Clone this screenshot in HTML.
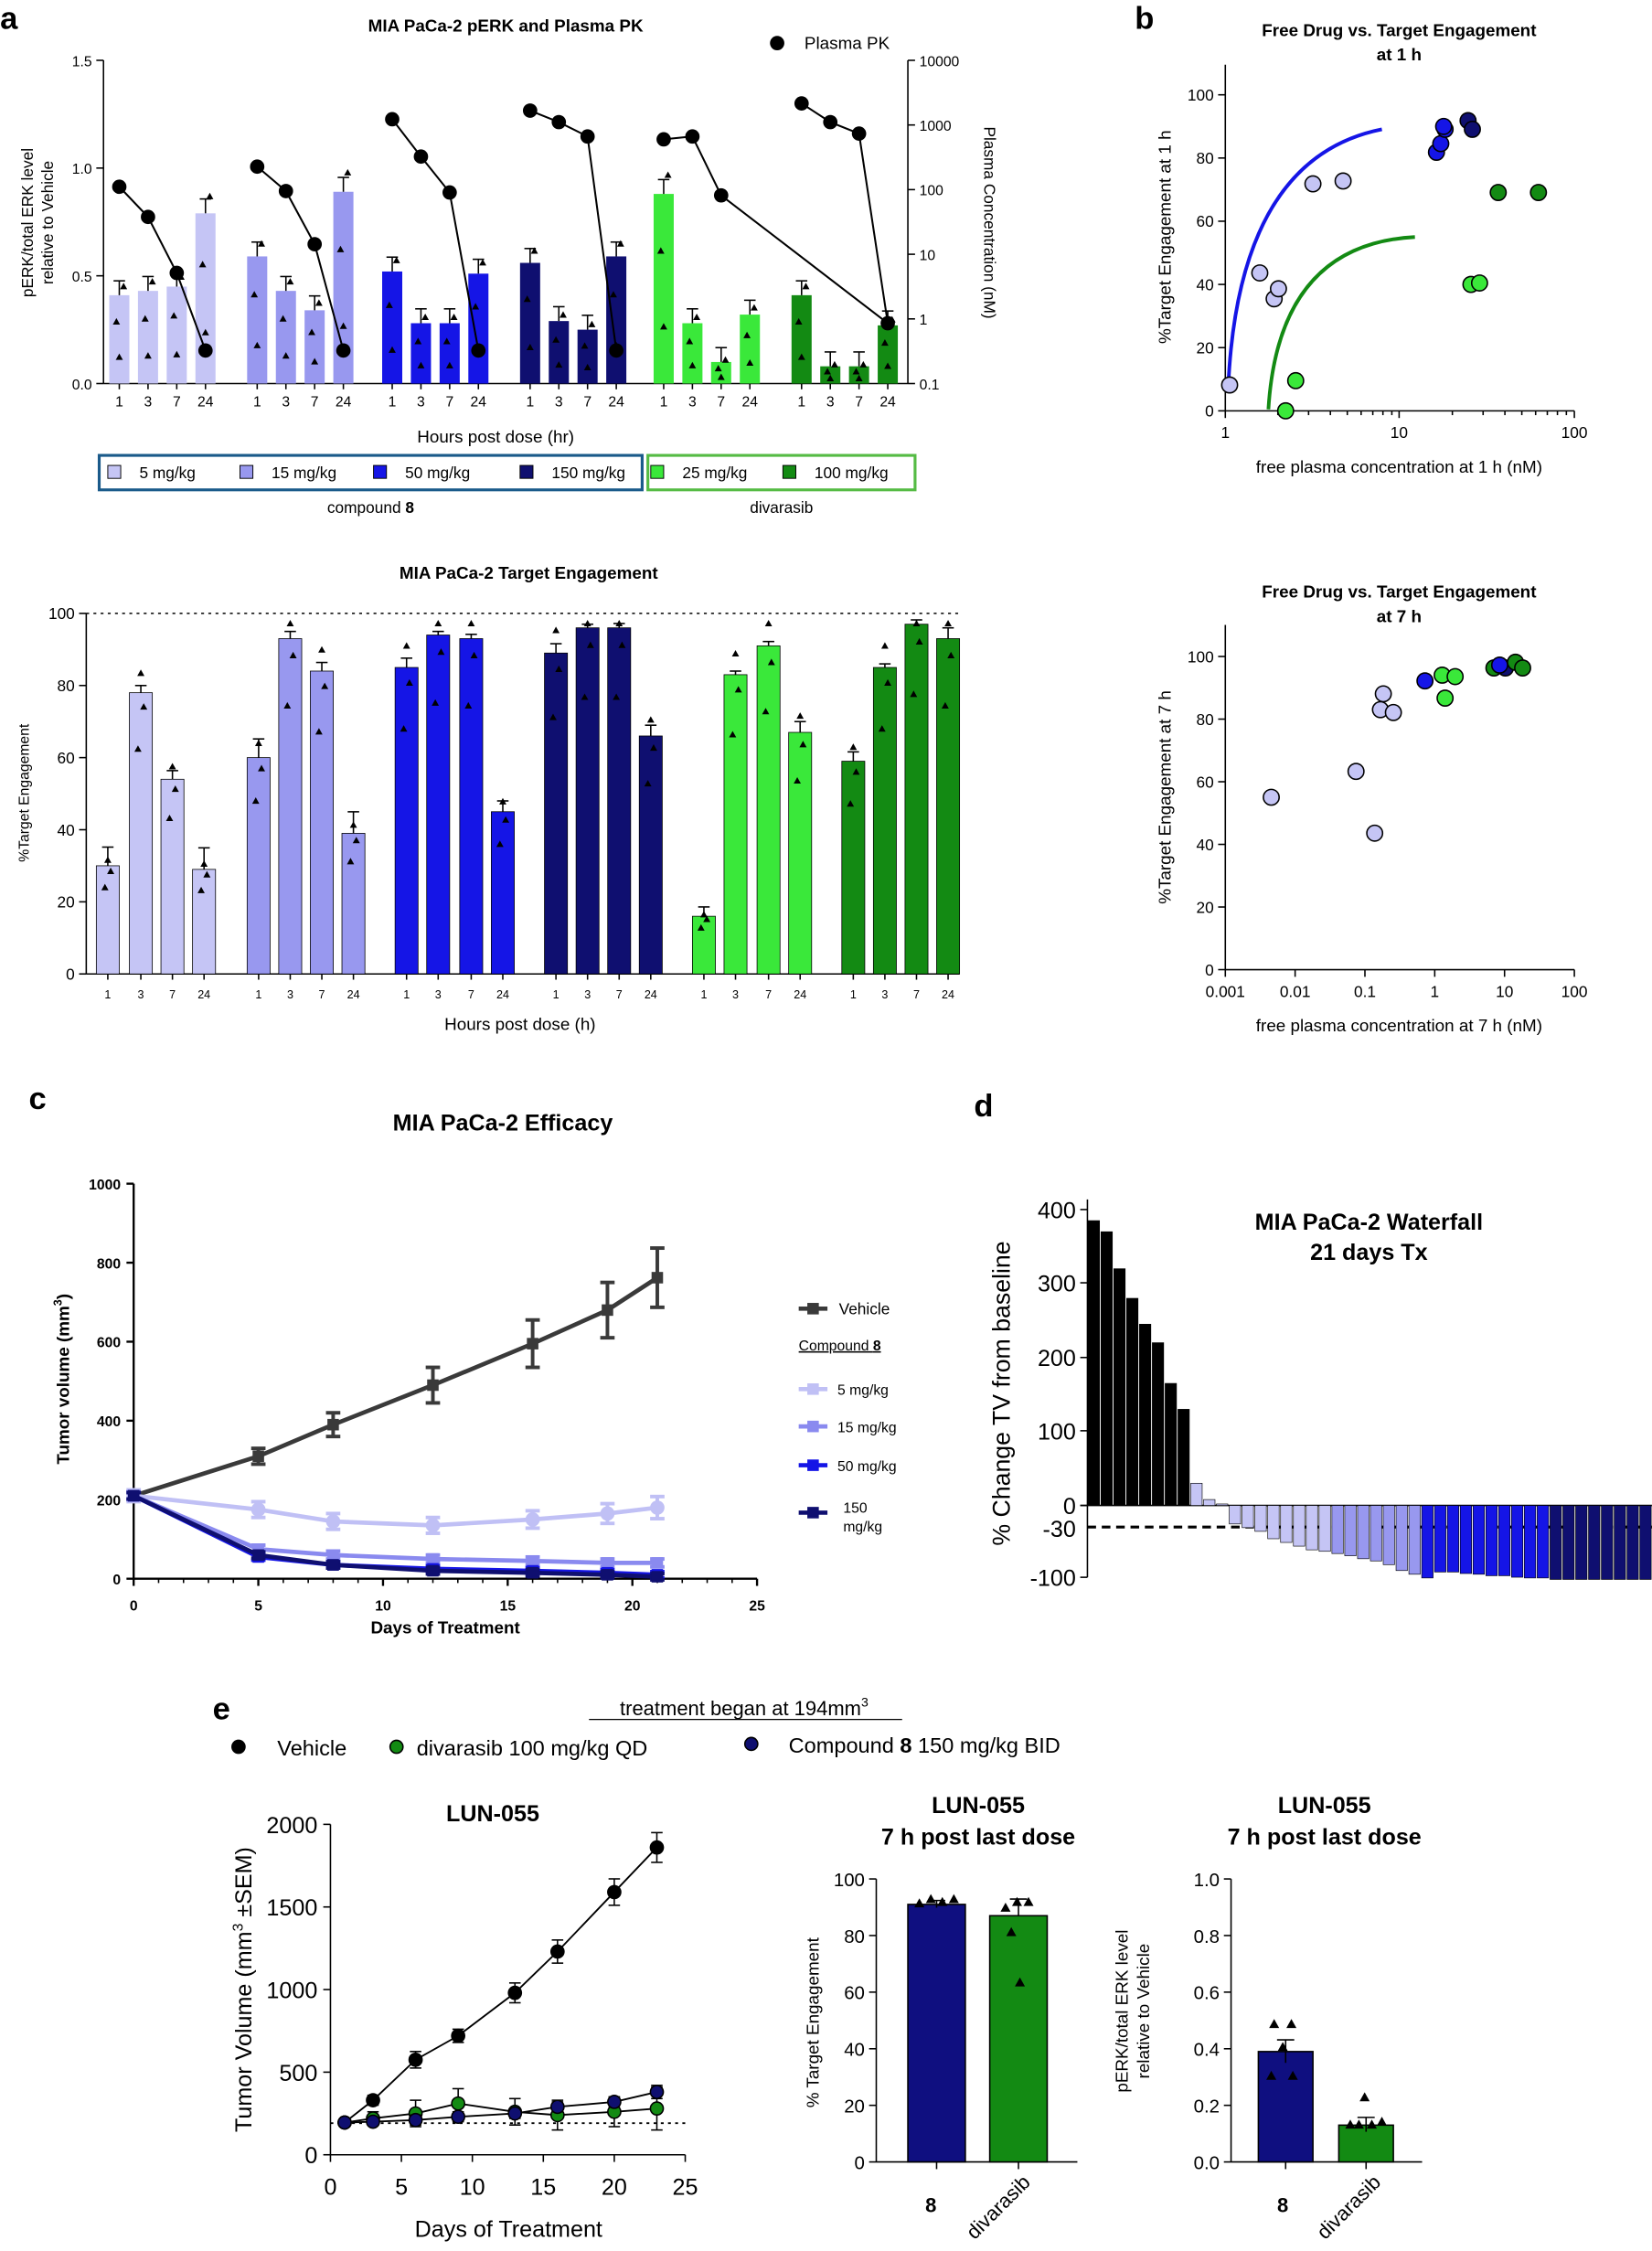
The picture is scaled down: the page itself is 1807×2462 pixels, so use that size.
<!DOCTYPE html>
<html><head><meta charset="utf-8"><style>
html,body{margin:0;padding:0;background:#fff}
svg{display:block}
text{font-family:"Liberation Sans",Arial,sans-serif;fill:#000}
</style></head><body>
<svg id="s" width="1807" height="2462" viewBox="0 0 1150 1567" xmlns="http://www.w3.org/2000/svg">
<g id="g"></g>
<text x="0" y="20" font-size="22" font-weight="bold">a</text>
<text x="790" y="20" font-size="22" font-weight="bold">b</text>
<text x="20" y="772" font-size="22" font-weight="bold">c</text>
<text x="678" y="777" font-size="22" font-weight="bold">d</text>
<text x="148" y="1197" font-size="22" font-weight="bold">e</text>
<text x="352" y="22" font-size="12" font-weight="bold" text-anchor="middle">MIA PaCa-2 pERK and Plasma PK</text>
<text x="560" y="34" font-size="12">Plasma PK</text>
<text x="345" y="308" font-size="12" text-anchor="middle">Hours post dose (hr)</text>
<text x="258" y="357" font-size="11" text-anchor="middle">compound <tspan font-weight="bold">8</tspan></text>
<text x="544" y="357" font-size="11" text-anchor="middle">divarasib</text>
<text x="368" y="403" font-size="12" font-weight="bold" text-anchor="middle">MIA PaCa-2 Target Engagement</text>
<text x="362" y="717" font-size="12" text-anchor="middle">Hours post dose (h)</text>
<text x="974" y="25" font-size="12" font-weight="bold" text-anchor="middle">Free Drug vs. Target  Engagement</text>
<text x="974" y="42" font-size="12" font-weight="bold" text-anchor="middle">at 1 h</text>
<text x="974" y="329" font-size="12" text-anchor="middle">free plasma concentration at 1 h (nM)</text>
<text x="974" y="416" font-size="12" font-weight="bold" text-anchor="middle">Free Drug vs. Target  Engagement</text>
<text x="974" y="433" font-size="12" font-weight="bold" text-anchor="middle">at 7 h</text>
<text x="974" y="718" font-size="12" text-anchor="middle">free plasma concentration at 7 h (nM)</text>
<text x="350" y="787" font-size="16" font-weight="bold" fill="#333" text-anchor="middle">MIA PaCa-2 Efficacy</text>
<text x="310" y="1137" font-size="12" font-weight="bold" text-anchor="middle">Days of Treatment</text>
<text x="953" y="856" font-size="16" font-weight="bold" text-anchor="middle">MIA PaCa-2 Waterfall</text>
<text x="953" y="877" font-size="16" font-weight="bold" text-anchor="middle">21 days Tx</text>
<text x="518" y="1194" font-size="14" text-anchor="middle">treatment began at 194mm<tspan font-size="9" dy="-6">3</tspan></text>
<line x1="410" y1="1197" x2="628" y2="1197" stroke="#000" stroke-width="0.8"/>
<text x="193" y="1222" font-size="15">Vehicle</text>
<text x="290" y="1222" font-size="15">divarasib 100 mg/kg QD</text>
<text x="549" y="1220" font-size="15">Compound <tspan font-weight="bold">8</tspan> 150 mg/kg BID</text>
<text x="343" y="1268" font-size="16" font-weight="bold" text-anchor="middle">LUN-055</text>
<text x="354" y="1557" font-size="16" text-anchor="middle">Days of Treatment</text>
<text x="681" y="1262" font-size="16" font-weight="bold" text-anchor="middle">LUN-055</text>
<text x="681" y="1284" font-size="16" font-weight="bold" text-anchor="middle">7 h post last dose</text>
<text x="922" y="1262" font-size="16" font-weight="bold" text-anchor="middle">LUN-055</text>
<text x="922" y="1284" font-size="16" font-weight="bold" text-anchor="middle">7 h post last dose</text>
<text x="893" y="1540" font-size="14" font-weight="bold" text-anchor="middle">8</text>
<text x="648" y="1540" font-size="14" font-weight="bold" text-anchor="middle">8</text>
<text transform="translate(718,1520) rotate(-45)" font-size="14" text-anchor="end">divarasib</text>
<text transform="translate(962,1520) rotate(-45)" font-size="14" text-anchor="end">divarasib</text>
<text transform="translate(23,155) rotate(-90)" font-size="11" text-anchor="middle">pERK/total ERK level</text>
<text transform="translate(37,155) rotate(-90)" font-size="11" text-anchor="middle">relative  to Vehicle</text>
<text transform="translate(685,155) rotate(90)" font-size="11" text-anchor="middle">Plasma Concentration (nM)</text>
<text transform="translate(20,552) rotate(-90)" font-size="10" text-anchor="middle">%Target Engagement</text>
<text transform="translate(815,165) rotate(-90)" font-size="12" text-anchor="middle">%Target Engagement at 1 h</text>
<text transform="translate(815,555) rotate(-90)" font-size="12" text-anchor="middle">%Target Engagement at 7 h</text>
<text transform="translate(48,960) rotate(-90)" font-size="12" font-weight="bold" text-anchor="middle">Tumor volume (mm<tspan font-size="8" dy="-5">3</tspan><tspan dy="5">)</tspan></text>
<text transform="translate(703,970) rotate(-90)" font-size="17" text-anchor="middle">% Change TV from baseline</text>
<text transform="translate(175,1385) rotate(-90)" font-size="16" text-anchor="middle">Tumor Volume (mm<tspan font-size="10" dy="-6">3</tspan><tspan dy="6"> ±SEM)</tspan></text>
<text transform="translate(570,1408) rotate(-90)" font-size="12" text-anchor="middle">% Target Engagement</text>
<text transform="translate(785,1400) rotate(-90)" font-size="12" text-anchor="middle">pERK/total ERK level</text>
<text transform="translate(800,1400) rotate(-90)" font-size="12" text-anchor="middle">relative  to Vehicle</text>
<text x="584" y="915" font-size="11">Vehicle</text>
<text x="556" y="940" font-size="10" text-decoration="underline">Compound <tspan font-weight="bold">8</tspan></text>
<text x="583" y="971" font-size="10">5 mg/kg</text>
<text x="583" y="997" font-size="10">15 mg/kg</text>
<text x="583" y="1024" font-size="10">50 mg/kg</text>
<text x="587" y="1053" font-size="10">150</text>
<text x="587" y="1066" font-size="10">mg/kg</text>
</svg>
<script>
const G=document.getElementById('g');const NS='http://www.w3.org/2000/svg';
function el(t,a,txt){const e=document.createElementNS(NS,t);for(const k in a)e.setAttribute(k,a[k]);if(txt!==undefined)e.textContent=txt;G.appendChild(e);return e;}
function L(x1,y1,x2,y2,c,w,d){const a={x1,y1,x2,y2,stroke:c||'#000','stroke-width':w||1};if(d)a['stroke-dasharray']=d;el('line',a);}
function T(x,y,s,fs,anc,extra){const a=Object.assign({x,y,'font-size':fs||10,'text-anchor':anc||'middle'},extra||{});el('text',a,s);}
function tri(x,y,s){s=s||3;el('polygon',{points:`${x},${y-s} ${x-s},${y+s*0.8} ${x+s},${y+s*0.8}`,fill:'#000'});}
function C(x,y,r,f,st){el('circle',{cx:x,cy:y,r:r,fill:f,stroke:st||'#000','stroke-width':1});}
const col=['#c5c5f5','#9898ef','#1515e6','#0f0f70','#3ae83a','#138a13'];

// a top
L(72,42,72,267);L(72,267,632,267);L(632,42,632,267);
[[0,267],[0.5,192],[1.0,117],[1.5,42]].forEach(([v,y])=>{L(67,y,72,y);T(64,y+4,v.toFixed(1),10,'end');});
['10000','1000','100','10','1','0.1'].forEach((s,i)=>{const y=42+i*45;L(632,y,637,y);T(640,y+4,s,10,'start');});
const ax=[[83,103,123,143],[179,199,219,239],[273,293,313,333],[369,389,409,429],[462,482,502,522],[558,578,598,618]];
const pv=[[.41,.43,.45,.79],[.59,.43,.34,.89],[.52,.28,.28,.51],[.56,.29,.25,.59],[.88,.28,.1,.32],[.41,.08,.08,.27]];
const pk=[[130,151,190,244],[116,133,170,244],[83,109,134,244],[77,85,95,244],[97,95,136,null],[72,85,93,225]];
ax.forEach((g,i)=>{g.forEach((x,j)=>{const v=pv[i][j];const h=v*150;el('rect',{x:x-7,y:267-h,width:14,height:h,fill:col[i]});
 L(x,267-h,x,267-h-10);L(x-4,267-h-10,x+4,267-h-10);tri(x-2,267-h*0.7,2.5);tri(x+3,267-h*1.1,2.5);tri(x,267-h*0.3,2.5);
 L(x,267,x,271);T(x,283,['1','3','7','24'][j],10);});
 const p=pk[i];let pts=[];p.forEach((y,j)=>{if(y!==null)pts.push(g[j]+','+y)});
 if(i==4)pts.push('618,225');
 el('polyline',{points:pts.join(' '),fill:'none',stroke:'#000','stroke-width':1.3});
 p.forEach((y,j)=>{if(y!==null)C(g[j],y,4.5,'#000')});});
C(541,30,4.5,'#000');
el('rect',{x:69,y:317,width:378,height:24,fill:'none',stroke:'#1a5a8a','stroke-width':2});
el('rect',{x:451,y:317,width:186,height:24,fill:'none',stroke:'#55bb44','stroke-width':2});
[[80,'5 mg/kg',0],[172,'15 mg/kg',1],[265,'50 mg/kg',2],[367,'150 mg/kg',3],[458,'25 mg/kg',4],[550,'100 mg/kg',5]].forEach(([x,s,i])=>{el('rect',{x:x-5,y:324,width:9,height:9,fill:col[i],stroke:'#000','stroke-width':0.6});T(x+17,333,s,11,'start');});

// a bottom
L(60,427,60,678);L(60,678,668,678);L(60,427,668,427,'#000',1,'2,3');
[0,20,40,60,80,100].forEach(v=>{const y=678-v*2.51;L(55,y,60,y);T(52,y+4,v,11,'end');});
const bx=[[75,98,120,142],[180,202,224,246],[283,305,328,350],[387,409,431,453],[490,512,535,557],[594,616,638,660]];
const bv=[[30,78,54,29],[60,93,84,39],[85,94,93,45],[89,96,96,66],[16,83,91,67],[59,85,97,93]];
bx.forEach((g,i)=>g.forEach((x,j)=>{const v=bv[i][j],h=v*2.51;el('rect',{x:x-8,y:678-h,width:16,height:h,fill:col[i],stroke:'#000','stroke-width':0.5});
 const e=[13,5,6,15][j]*(i>1?0.5:1);L(x,678-h,x,678-h-e);L(x-4,678-h-e,x+4,678-h-e);
 const up=Math.min(v*1.08,98);tri(x,678-up*2.51+2,2.5);tri(x-2,678-v*0.8*2.51,2.5);tri(x+2,678-v*0.95*2.51,2.5);
 L(x,678,x,682);T(x,695,['1','3','7','24'][j],8);}));

// b top
L(853,45,853,286);L(853,286,1096,286);
[0,20,40,60,80,100].forEach(v=>{const y=286-v*2.2;L(848,y,853,y);T(845,y+4,v,11,'end');});
[[853,'1'],[974,'10'],[1096,'100']].forEach(([x,s])=>{L(x,286,x,291);T(x,305,s,11);});
for(let d=0;d<2;d++)for(let k=2;k<10;k++){const x=853+121.5*(d+Math.log10(k));L(x,286,x,289);}
el('path',{d:'M855,270 Q862,110 962,90',fill:'none',stroke:'#1515e6','stroke-width':2.5});
el('path',{d:'M883,285 Q890,170 985,165',fill:'none',stroke:'#138a13','stroke-width':2.5});
[[856,268,0],[877,190,0],[887,208,0],[890,201,0],[914,128,0],[935,126,0],[895,286,4],[902,265,4],[1043,134,5],[1071,134,5],[1024,198,4],[1030,197,4],[1000,106,2],[1003,100,2],[1006,90,2],[1005,88,2],[1022,84,3],[1025,90,3]].forEach(([x,y,c])=>C(x,y,5.5,col[c]));

// b bottom
L(853,435,853,675);L(853,675,1096,675);
[0,20,40,60,80,100].forEach(v=>{const y=675-v*2.18;L(848,y,853,y);T(845,y+4,v,11,'end');});
['0.001','0.01','0.1','1','10','100'].forEach((s,i)=>{const x=853+48.6*i;L(x,675,x,680);T(x,694,s,11);});
[[885,555,0],[944,537,0],[957,580,0],[963,483,0],[961,494,0],[970,496,0],[992,474,2],[1004,470,4],[1013,471,4],[1006,486,4],[1040,465,5],[1048,465,3],[1055,461,5],[1060,465,5],[1044,463,2]].forEach(([x,y,c])=>C(x,y,5.5,col[c]));

// c
L(93,824,93,1099,'#000',1.5);L(93,1099,527,1099,'#000',1.5);
[0,200,400,600,800,1000].forEach(v=>{const y=1099-v*0.275;L(88,y,93,y,'#000',1.5);T(84,y+4,v,10,'end',{'font-weight':'bold'});});
[0,5,10,15,20,25].forEach(v=>{const x=93+v*17.36;L(x,1099,x,1104,'#000',1.5);T(x,1121,v,10,'middle',{'font-weight':'bold'});});
for(let d=1;d<25;d++){const x=93+d*17.36;L(x,1099,x,1102);}
const days=[0,5,8,12,16,19,21];
const cs=[[[210,310,390,490,595,680,762],'#3a3a3a','sq',[10,20,30,45,60,70,75]],[[210,175,145,135,150,165,180],'#c0c0f5','c',[15,20,20,20,22,25,28]],[[210,75,60,50,45,40,40],'#8a8aef','sq',[10,10,10,10,10,10,10]],[[210,55,35,25,20,15,10],'#1515e6','tri',[8,8,8,8,8,8,8]],[[210,60,35,20,15,10,5],'#0f0f70','tri',[8,8,8,8,8,8,8]]];
cs.forEach(([v,c,m,er])=>{const pts=v.map((y,j)=>(93+days[j]*17.36)+','+(1099-y*0.275));
 el('polyline',{points:pts.join(' '),fill:'none',stroke:c,'stroke-width':3});
 v.forEach((y,j)=>{const x=93+days[j]*17.36,yy=1099-y*0.275;const e=er[j]*0.275;
  L(x,yy-e,x,yy+e,c,2.5);L(x-5,yy-e,x+5,yy-e,c,2.5);L(x-5,yy+e,x+5,yy+e,c,2.5);
  if(m=='c')el('circle',{cx:x,cy:yy,r:5,fill:c});else el('rect',{x:x-4,y:yy-4,width:8,height:8,fill:c});});});
[[911,'#3a3a3a'],[967,'#c0c0f5'],[993,'#8a8aef'],[1020,'#1515e6'],[1053,'#0f0f70']].forEach(([y,c])=>{L(556,y,576,y,c,3);el('rect',{x:562,y:y-4,width:8,height:8,fill:c});});

// d
L(757,835,757,1098);L(752,1048,1150,1048);
[[400,842],[300,893],[200,945],[100,996],[0,1048],[-100,1098]].forEach(([v,y])=>{L(752,y,757,y);T(749,y+6,v,16,'end');});
T(749,1070,'-30',16,'end');
L(757,1063,1150,1063,'#000',2,'6,4');
const wv=[385,370,320,280,245,220,165,130,30,8,2,-25,-30,-35,-45,-50,-55,-60,-62,-65,-68,-72,-75,-80,-88,-93,-98,-90,-90,-92,-93,-95,-95,-97,-98,-98,-100,-100,-100,-100,-100,-100,-100,-100];
const bw=393/wv.length;
wv.forEach((v,i)=>{const c=i<8?'#000':(i<19?'#c5c5f5':(i<26?'#9898ef':(i<36?'#1515e6':'#0f0f70')));
 const y=v>0?1048-v*0.515:1048;const h=Math.abs(v)*0.515;el('rect',{x:757+i*bw+0.5,y:y,width:bw-1,height:h,fill:c,stroke:'#000','stroke-width':0.4});});

// e
C(166,1216,4.5,'#000');C(276,1216,4.5,'#138a13');C(523,1214,4.5,'#0f0f70');
L(230,1270,230,1500);L(230,1500,477,1500);
[0,500,1000,1500,2000].forEach(v=>{const y=1500-v*0.115;L(225,y,230,y);T(221,y+6,v,16,'end');});
[0,5,10,15,20,25].forEach(v=>{const x=230+v*9.88;L(x,1500,x,1505);T(x,1528,v,16);});
L(230,1478,477,1478,'#000',1.2,'2,3');
const ed=[1,3,6,9,13,16,20,23];
[[[195,330,575,720,980,1230,1590,1860],'#000',[0,30,50,40,60,70,80,90]],[[195,220,250,310,260,240,260,280],'#138a13',[0,40,80,90,80,90,90,130]],[[195,200,210,230,250,290,320,380],'#0f0f70',[0,20,30,30,30,30,30,40]]].forEach(([v,c,e])=>{
 const pts=v.map((y,j)=>(230+ed[j]*9.88)+','+(1500-y*0.115));el('polyline',{points:pts.join(' '),fill:'none',stroke:'#000','stroke-width':1.2});
 v.forEach((y,j)=>{const x=230+ed[j]*9.88,yy=1500-y*0.115,ee=e[j]*0.115;L(x,yy-ee,x,yy+ee);L(x-4,yy-ee,x+4,yy-ee);L(x-4,yy+ee,x+4,yy+ee);C(x,yy,4.5,c);});});
L(610,1308,610,1505);L(610,1505,750,1505);
[0,20,40,60,80,100].forEach(v=>{const y=1505-v*1.97;L(605,y,610,y);T(602,y+5,v,13,'end');});
el('rect',{x:632,y:1505-91*1.97,width:40,height:91*1.97,fill:'#0f0f80',stroke:'#000'});
el('rect',{x:689,y:1505-87*1.97,width:40,height:87*1.97,fill:'#138a13',stroke:'#000'});
L(652,1323,652,1328);L(646,1323,658,1323);L(709,1322,709,1334);L(703,1322,715,1322);
[[640,1325],[648,1322],[656,1324],[664,1322],[700,1328],[708,1324],[716,1324],[704,1345],[710,1380]].forEach(([x,y])=>tri(x,y,3.5));
L(652,1505,652,1510);L(709,1505,709,1510);
L(857,1308,857,1505);L(857,1505,990,1505);
[0,0.2,0.4,0.6,0.8,1.0].forEach(v=>{const y=1505-v*197;L(852,y,857,y);T(849,y+5,v.toFixed(1),13,'end');});
el('rect',{x:876,y:1505-0.39*197,width:38,height:0.39*197,fill:'#0f0f80',stroke:'#000'});
el('rect',{x:932,y:1505-0.13*197,width:38,height:0.13*197,fill:'#138a13',stroke:'#000'});
L(895,1420,895,1436);L(889,1420,901,1420);L(951,1474,951,1484);L(945,1474,957,1474);
[[887,1409],[899,1409],[893,1425],[885,1445],[900,1445],[950,1460],[940,1479],[946,1479],[955,1479],[962,1477]].forEach(([x,y])=>tri(x,y,3.5));
L(895,1505,895,1510);L(951,1505,951,1510);
</script>
</body></html>
